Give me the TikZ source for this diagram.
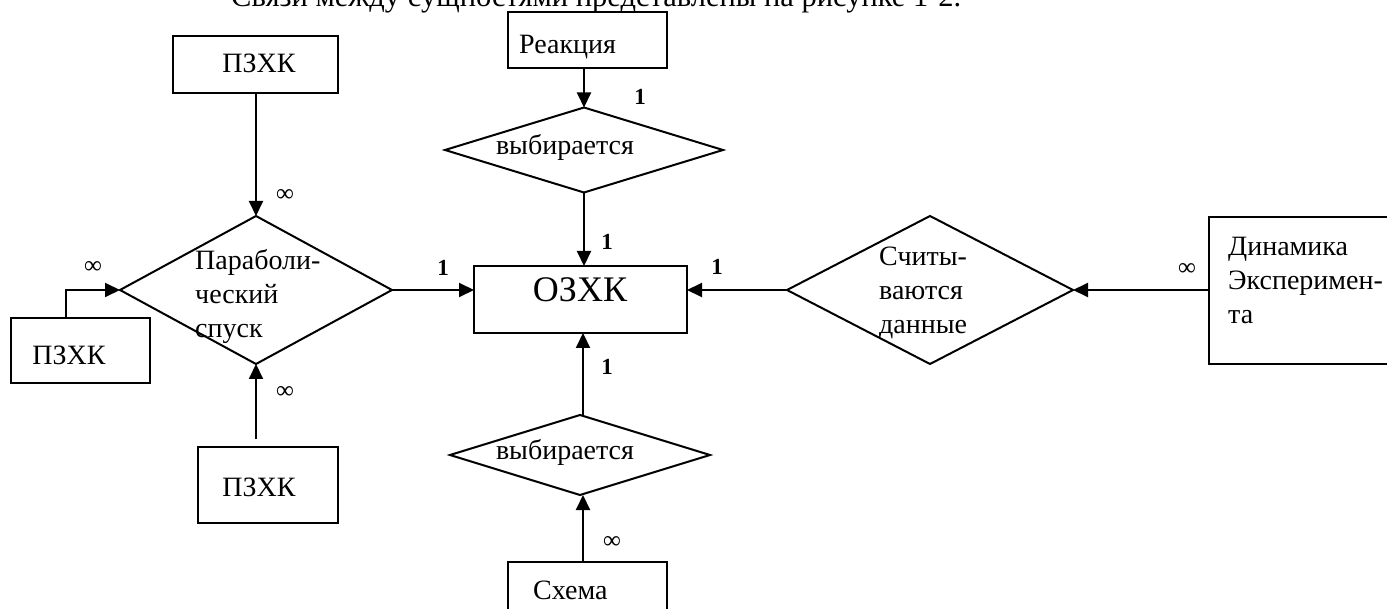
\documentclass[tikz,border=0pt]{standalone}
\usepackage{fontspec}
\setmainfont{Liberation Serif}
\usetikzlibrary{shapes.geometric,arrows.meta}
\begin{document}
\begin{tikzpicture}[x=1pt,y=-1pt,
  ent/.style={draw,line width=2pt,rectangle,inner sep=0pt,outer sep=0pt,anchor=north west},
  rel/.style={draw,line width=2pt,diamond,inner sep=0pt,outer sep=0pt},
  txt/.style={inner sep=0pt,font=\fontsize{28}{33}\selectfont},
  blk/.style={inner sep=0pt,align=left,anchor=west,font=\fontsize{28}{34}\selectfont},
  one/.style={inner sep=0pt,font=\fontsize{23}{26}\selectfont\bfseries},
  inf/.style={inner sep=0pt,font=\fontsize{25}{26}\selectfont},
  conn/.style={line width=2pt,-{Triangle[length=15pt,width=14pt]}}]
\useasboundingbox (0,0) rectangle (1387,609);
\clip (0,0) rectangle (1387,609);
% caption (cut off at top)
\node[inner sep=0pt,font=\fontsize{30.5}{34}\selectfont,anchor=base west] (cap) at (231,7) {Связи между сущностями представлены на рисунке 1-2.};
% entities
\node[ent,minimum width=165pt,minimum height=57pt] (p1) at (173,36) {};
\node[ent,minimum width=139pt,minimum height=65pt] (p2) at (11,318) {};
\node[ent,minimum width=140pt,minimum height=76pt] (p3) at (198,447) {};
\node[ent,minimum width=213pt,minimum height=67pt] (oz) at (474,266) {};
\node[ent,minimum width=159pt,minimum height=56pt] (re) at (508,12) {};
\node[ent,minimum width=159pt,minimum height=70pt] (sx) at (508,562) {};
\node[ent,minimum width=220pt,minimum height=147pt] (dn) at (1209,217) {};
% relationships
\node[rel,minimum width=272pt,minimum height=148pt] (d1) at (256,290) {};
\node[rel,minimum width=278pt,minimum height=85pt] (d2) at (584,150) {};
\node[rel,minimum width=260pt,minimum height=80pt] (d3) at (580,455) {};
\node[rel,minimum width=286pt,minimum height=148pt] (d4) at (930,290) {};
% texts
\node[txt] (tp1) at (259,63) {ПЗХК};
\node[txt] (tp2) at (69,355) {ПЗХК};
\node[txt] (tp3) at (259,487) {ПЗХК};
\node[inner sep=0pt,font=\fontsize{36}{40}\selectfont] (toz) at (580,290) {ОЗХК};
\node[txt,anchor=west] (tre) at (519,47) {Реакция};
\node[txt,anchor=west] (tsx) at (533,590) {Схема};
\node[txt] (td2) at (565,147) {выбирается};
\node[txt] (td3) at (565,452) {выбирается};
\node[blk] (td1) at (195,297) {Параболи-\\ческий\\спуск};
\node[blk] (td4) at (879,293) {Считы-\\ваются\\данные};
\node[blk] (tdn) at (1228,280) {Динамика\\Эксперимен-\\та};
% connectors
\coordinate (c2) at (66,290);
\draw[conn] (p1.south -| d1.north) -- (d1.north);
\draw[conn] (p2.north -| c2) -- (c2) -- (d1.west);
\draw[conn,shorten <=8pt] (p3.north -| d1.south) -- (d1.south);
\draw[conn] (d1.east) -- (oz.west |- d1.east);
\draw[conn] (re.south -| d2.north) -- (d2.north);
\draw[conn] (d2.south) -- (d2.south |- oz.north);
\draw[conn] (sx.north -| 583,0) -- (d3.south -| 583,0);
\draw[conn] (d3.north -| 583,0) -- (oz.south -| 583,0);
\draw[conn] (d4.west) -- (oz.east |- d4.west);
\draw[conn] (dn.west |- d4.east) -- (d4.east);
% cardinalities
\node[inf] (i1) at (285,196) {∞};
\node[inf] (i2) at (93,268) {∞};
\node[inf] (i3) at (285,393) {∞};
\node[inf] (i4) at (612,542) {∞};
\node[inf] (i5) at (1187,270) {∞};
\node[one] (o1) at (640,97) {1};
\node[one] (o2) at (607,242) {1};
\node[one] (o3) at (443,268) {1};
\node[one] (o4) at (717,267) {1};
\node[one] (o5) at (607,367) {1};
\end{tikzpicture}
\end{document}
